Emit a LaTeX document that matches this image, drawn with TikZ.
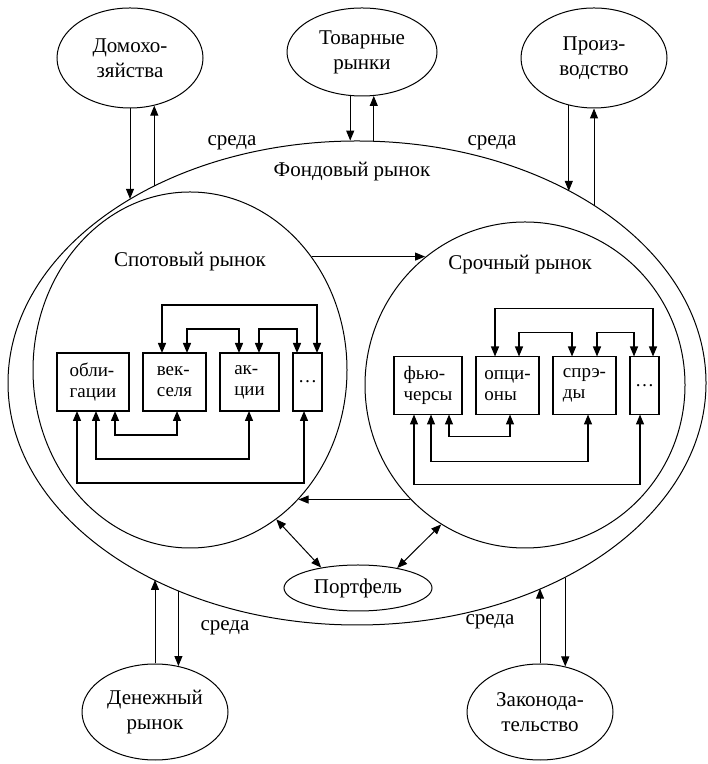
\documentclass[tikz,border=0pt]{standalone}
\usepackage{fontspec}
\setmainfont{Liberation Serif}
\usetikzlibrary{shapes.geometric,positioning,arrows.meta}

\begin{document}
\begin{tikzpicture}[x=0.5pt,y=0.5pt,line width=0.5pt,
  >={Triangle[length=5pt,width=4pt]},node distance=7pt,
  oval/.style={ellipse,draw,inner sep=1pt,align=center,
    font=\fontsize{10.5}{12.5}\selectfont},
  outer node/.style={oval,minimum width=73pt,minimum height=50pt},
  box/.style={rectangle,draw,line width=0.7pt,minimum height=29pt,
    inner sep=2pt,outer sep=0pt,align=left,
    font=\fontsize{9.5}{10.5}\selectfont},
  link/.style={<->,line width=0.65pt},
  lbl/.style={font=\fontsize{10.5}{12.5}\selectfont}]
  \useasboundingbox (0,0) rectangle (707,764);

  % stock market and its two parts
  \node[oval,minimum width=349pt,minimum height=242pt] (fond) at (357,381) {};
  \node[oval,minimum width=157pt,minimum height=178pt] (spot) at (190,394) {};
  \node[oval,minimum width=160pt,minimum height=163pt] (fwd) at (525,379) {};
  \node[lbl] (fondlbl) at (352,592) {Фондовый рынок};
  \node[lbl] (spotlbl) at (190,502) {Спотовый рынок};
  \node[lbl] (fwdlbl) at (520,499) {Срочный рынок};
  \node[oval,minimum width=74pt,minimum height=23pt] (port) at (358,176) {Портфель};

  % environment
  \node[outer node] (dom) at (130,706) {Домохо-\\зяйства};
  \node[outer node,minimum width=75pt,minimum height=44pt] (tov) at (362,712) {Товарные\\рынки};
  \node[outer node] (proizv) at (594,706) {Произ-\\водство};
  \node[outer node,minimum height=48pt] (den) at (155,52) {Денежный\\рынок};
  \node[outer node,minimum height=48pt] (zak) at (540,52) {Законода-\\тельство};
  \node[lbl] (sreda1) at (232,621) {среда};
  \node[lbl] (sreda2) at (492,621) {среда};
  \node[lbl] (sreda3) at (225,136) {среда};
  \node[lbl] (sreda4) at (490,142) {среда};

  \draw[->] (dom.south) -- (dom.south |- fond.141);
  \draw[->] (dom.297 |- fond.136) -- (dom.297);
  \draw[->] (tov.255) -- (tov.255 |- fond.92);
  \draw[->] (tov.285 |- fond.89) -- (tov.285);
  \draw[->] (proizv.242) -- (proizv.242 |- fond.42);
  \draw[->] (proizv.south |- fond.37) -- (proizv.south);
  \draw[->] (den.north) -- (den.north |- fond.224);
  \draw[->] (den.63 |- fond.229) -- (den.63);
  \draw[->] (zak.north) -- (zak.north |- fond.312);
  \draw[->] (zak.61 |- fond.317) -- (zak.61);

  \draw[->] (spot.43) -- (fwd.128 |- spot.43);
  \draw[->] (fwd.225) -- (spot.-50 |- fwd.225);
  \draw[<->] (spot.-60) -- (port.151);
  \draw[<->] (fwd.239) -- (port.27);

  % spot instruments
  \node[box,minimum width=36pt] (obl) at (93,382) {обли-\\гации};
  \node[box,minimum width=31.5pt] (vek) [right=of obl] {век-\\селя};
  \node[box,minimum width=29.5pt] (akc) [right=of vek] {ак-\\ции};
  \node[box,minimum width=14.5pt] (sdots) [right=of akc] {\dots};
  \draw[link] ([xshift=9.5pt]vek.north west) -- ++(0,48) -| ([xshift=12pt]sdots.north west);
  \draw[link] ([xshift=22pt]vek.north west) -- ++(0,24) -| ([xshift=9.5pt]akc.north west);
  \draw[link] ([xshift=19.5pt]akc.north west) -- ++(0,24) -| ([xshift=2pt]sdots.north west);
  \draw[link] ([xshift=29pt]obl.south west) -- ++(0,-24) -| ([xshift=17pt]vek.south west);
  \draw[link] ([xshift=19.5pt]obl.south west) -- ++(0,-48) -| ([xshift=14.5pt]akc.south west);
  \draw[link] ([xshift=10pt]obl.south west) -- ++(0,-72) -| ([xshift=5.5pt]sdots.south west);

  % derivatives
  \node[box,minimum width=34pt] (fut) at (428,378.5) {фью-\\черсы};
  \node[box,minimum width=31.5pt] (opc) [right=of fut] {опци-\\оны};
  \node[box,minimum width=31.5pt] (spr) [right=of opc] {спрэ-\\ды};
  \node[box,minimum width=14.5pt] (fdots) [right=of spr] {\dots};
  \draw[link] ([xshift=9.5pt]opc.north west) -- ++(0,48) -| ([xshift=11.5pt]fdots.north west);
  \draw[link] ([xshift=21.5pt]opc.north west) -- ++(0,24) -| ([xshift=9.5pt]spr.north west);
  \draw[link] ([xshift=22pt]spr.north west) -- ++(0,24) -| ([xshift=2pt]fdots.north west);
  \draw[link] ([xshift=27.5pt]fut.south west) -- ++(0,-22) -| ([xshift=17pt]opc.south west);
  \draw[link] ([xshift=18.5pt]fut.south west) -- ++(0,-47) -| ([xshift=17.5pt]spr.south west);
  \draw[link] ([xshift=10pt]fut.south west) -- ++(0,-70) -| ([xshift=5pt]fdots.south west);
\end{tikzpicture}
\end{document}
